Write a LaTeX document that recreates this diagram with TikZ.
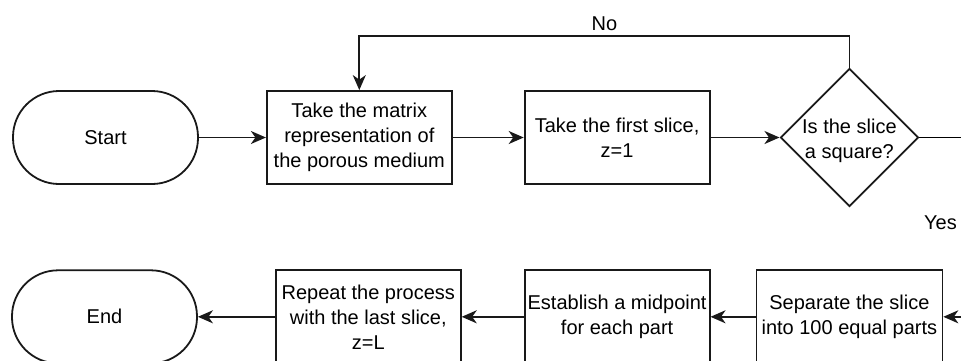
\documentclass[tikz,border=0pt]{standalone}
\usepackage{fontspec}
\setmainfont{Liberation Sans}
\usetikzlibrary{positioning, arrows.meta, shapes.geometric}

\begin{document}
\begin{tikzpicture}[
    x=1pt, y=1pt,
    font=\fontsize{20}{25}\selectfont,
    line width=1.8pt,
    terminal/.style={
        rectangle, rounded corners=46pt,
        draw=black!90,
        minimum width=185pt, minimum height=93pt,
        align=center
    },
    process/.style={
        rectangle,
        draw=black!90,
        minimum width=185pt, minimum height=93pt,
        inner sep=2pt,
        align=center
    },
    decision/.style={
        diamond, aspect=1,
        draw=black!90,
        minimum width=138pt, minimum height=138pt,
        inner sep=0pt
    },
    arrow/.style={-{Stealth[length=15pt, width=13pt, inset=4.5pt]}, draw=black!90},
]

% ---------- Frame ----------
\useasboundingbox (0,0) rectangle (961,-360);
\clip (0,0) rectangle (961,-360);

% ---------- Top row ----------
\node[terminal] (start) at (105.5,-137.5) {Start};
\node[process, right=67pt of start] (matrix) {Take the matrix\\representation of\\the porous medium};
\node[process, right=71pt of matrix] (first) {Take the first slice,\\z=1};
\node[decision, right=69pt of first] (dec) {};
\node[align=center, yshift=-3pt] (dectext) at (dec) {Is the slice\\a square?};

% ---------- Bottom row ----------
\node[process, below=62pt of dec, minimum width=186pt] (sep) {Separate the slice\\into 100 equal parts};
\node[process, left=45pt of sep] (est) {Establish a midpoint\\for each part};
\node[process, left=62pt of est] (rep) {Repeat the process\\with the last slice,\\z=L};
\node[terminal, left=77pt of rep] (end) {End};

% turning point past the right edge
\coordinate (turn) at (963,-223);

% ---------- Arrows ----------
\draw[arrow] (start) -- (matrix);
\draw[arrow] (matrix) -- (first);
\draw[arrow] (first) -- (dec);
\draw[arrow] (dec.north) -- ++(0,32) -| node[pos=0.25, above=1pt] (nolabel) {No} (matrix.north);
\draw (dec.east) -| (turn) node[left=2pt] (yeslabel) {Yes};
\draw[arrow] (turn) |- (sep.east);
\draw[arrow] (sep) -- (est);
\draw[arrow] (est) -- (rep);
\draw[arrow] (rep) -- (end);

\end{tikzpicture}
\end{document}
